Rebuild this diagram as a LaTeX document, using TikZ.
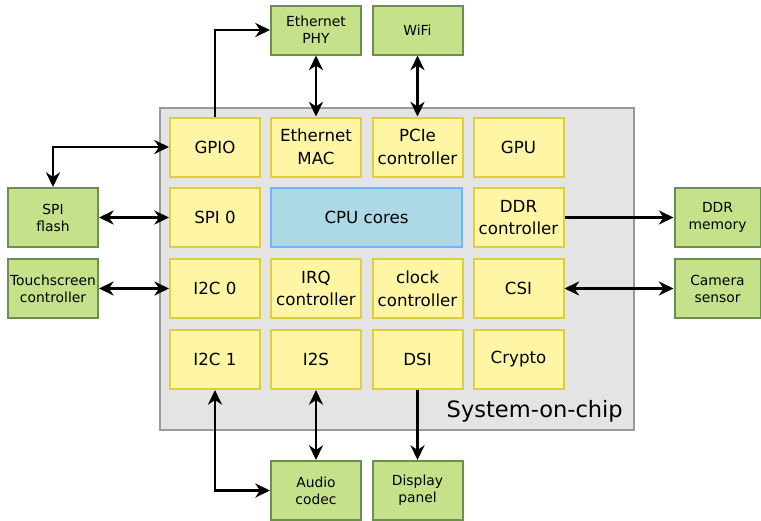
\documentclass[tikz,border=0pt]{standalone}
\usepackage{fontspec}
\setmainfont{DejaVu Sans}
\usepackage{xcolor}
\usepackage{tikz}
\usetikzlibrary{arrows.meta}
\usetikzlibrary{positioning}
\usetikzlibrary{calc}

\definecolor{socfill}{RGB}{228,228,228}
\definecolor{socdraw}{RGB}{153,153,153}
\definecolor{blkfill}{RGB}{255,246,165}
\definecolor{blkdraw}{RGB}{222,206,60}
\definecolor{cpufill}{RGB}{173,216,230}
\definecolor{cpudraw}{RGB}{110,180,255}
\definecolor{extfill}{RGB}{197,226,138}
\definecolor{extdraw}{RGB}{108,142,78}

\begin{document}
\begin{tikzpicture}[x=0.75pt,y=0.75pt,yscale=-1,xscale=1,
  blk/.style={draw=blkdraw,fill=blkfill,line width=1.5pt,minimum width=67.5pt,minimum height=44.25pt,inner sep=0pt,align=center,font=\fontsize{12.5}{17}\selectfont},
  ext/.style={draw=extdraw,fill=extfill,line width=1.5pt,minimum width=67.5pt,minimum height=44.25pt,inner sep=0pt,align=center,font=\fontsize{10.4}{12.8}\selectfont},
  link/.style={line width=1.8pt,{Stealth[length=11pt,width=10.5pt,inset=3.5pt]}-{Stealth[length=11pt,width=10.5pt,inset=3.5pt]}},
  onelink/.style={line width=1.8pt,-{Stealth[length=11pt,width=10.5pt,inset=3.5pt]}}]
\useasboundingbox (0,0) rectangle (761,521);
% System-on-chip
\node [draw=socdraw,fill=socfill,line width=1.5pt,minimum width=355.5pt,minimum height=241.5pt] (soc) at (397,269) {};
\node [anchor=base east,inner sep=0pt,font=\fontsize{16.9}{20}\selectfont] (soclabel) at (623,417) {System-on-chip};
% Blocks, row 1
\node [blk] (gpio) at (215,147) {GPIO};
\node [blk] (emac) at (316,147) {Ethernet\\MAC};
\node [blk] (pcie) at (417.5,147) {PCIe\\controller};
\node [blk] (gpu) at (518.5,147) {GPU};
% Blocks, row 2
\node [blk] (spi) at (215,217.5) {SPI 0};
\node [blk,draw=cpudraw,fill=cpufill,minimum width=143.25pt] (cpu) at (366.5,217.5) {CPU cores};
\node [blk] (ddrc) at (518.5,217.5) {DDR\\controller};
% Blocks, row 3
\node [blk] (i2czero) at (215,288.5) {I2C 0};
\node [blk] (irq) at (316,288.5) {IRQ\\controller};
\node [blk] (clk) at (417.5,288.5) {clock\\controller};
\node [blk] (csi) at (518.5,288.5) {CSI};
% Blocks, row 4
\node [blk] (i2cone) at (215,359.5) {I2C 1};
\node [blk] (i2s) at (316,359.5) {I2S};
\node [blk] (dsi) at (417.5,359.5) {DSI};
\node [blk] (crypto) at (518.5,359.5) {Crypto};
% External parts
\node [ext,minimum height=36.75pt] (phy) at (316,30) {Ethernet\\PHY};
\node [ext,minimum height=36.75pt] (wifi) at (417.5,30) {WiFi};
\node [ext] (flash) at (53,217.5) {SPI\\flash};
\node [ext] (touch) at (53,288.5) {Touchscreen\\controller};
\node [ext,minimum width=64.5pt] (ddrmem) at (717.5,217.5) {DDR\\memory};
\node [ext,minimum width=64.5pt] (camera) at (717.5,288.5) {Camera\\sensor};
\node [ext] (audio) at (316,490.5) {Audio\\codec};
\node [ext] (display) at (417.5,490.5) {Display\\panel};
% Connections
\draw [onelink] (gpio.north) |- (phy.west);
\draw [link] (flash.north) |- (gpio.west);
\draw [link] (emac.north) -- (phy.south);
\draw [link] (pcie.north) -- (wifi.south);
\draw [link] (flash.east) -- (spi.west);
\draw [link] (touch.east) -- (i2czero.west);
\draw [onelink] (ddrc.east) -- (ddrmem.west);
\draw [link] (csi.east) -- (camera.west);
\draw [link] (i2cone.south) |- (audio.west);
\draw [link] (i2s.south) -- (audio.north);
\draw [onelink] (dsi.south) -- (display.north);
\end{tikzpicture}
\end{document}
